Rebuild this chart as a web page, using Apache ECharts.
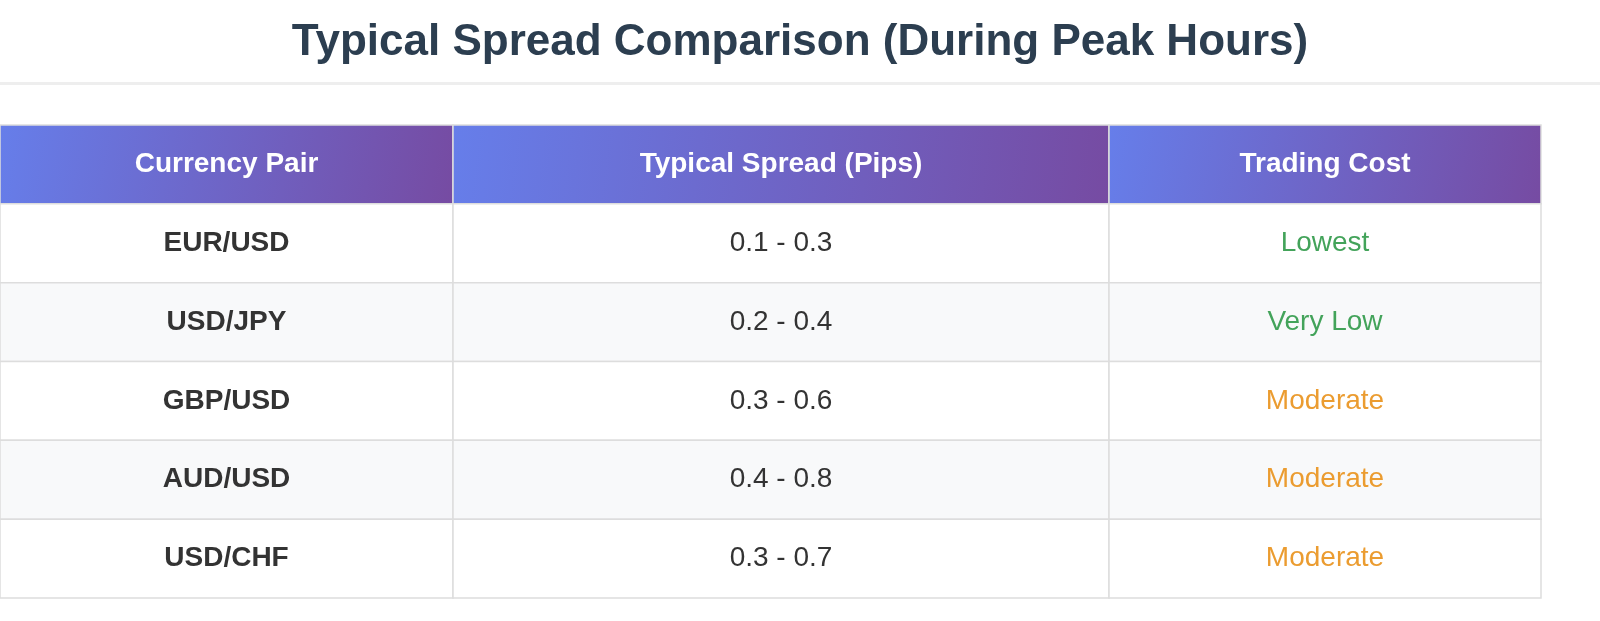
<!DOCTYPE html>
<html>
<head>
<meta charset="utf-8">
<script src="https://cdn.jsdelivr.net/npm/echarts@6/dist/echarts.min.js"></script>
<style>
  html, body { margin: 0; padding: 0; background: #fff; }
  #chart { width: 1600px; height: 621px; }
</style>
</head>
<body>
<div id="chart"></div>
<script>
// Table content
const headers = ['Currency Pair', 'Typical Spread (Pips)', 'Trading Cost'];
const pairs = ['EUR/USD', 'USD/JPY', 'GBP/USD', 'AUD/USD', 'USD/CHF'];
const spreads = ['0.1 - 0.3', '0.2 - 0.4', '0.3 - 0.6', '0.4 - 0.8', '0.3 - 0.7'];
const costs = ['Lowest', 'Very Low', 'Moderate', 'Moderate', 'Moderate'];

// Layout / style
const colWidths = [453, 656, 432];
const costColors = { 'Lowest': '#43a35a', 'Very Low': '#43a35a', 'Moderate': '#eb9c30' };
const FONT = '"Liberation Sans", Arial, sans-serif';

const colStarts = [];
let acc = 0;
colWidths.forEach(w => { colStarts.push(acc); acc += w; });
const totalWidth = acc;

const rowNames = ['header'].concat(pairs);
const cells = [];
headers.forEach((h, c) => cells.push([colStarts[c], colStarts[c] + colWidths[c], 0, h, c]));
pairs.forEach((p, i) => {
    const row = [p, spreads[i], costs[i]];
    row.forEach((t, c) => cells.push([colStarts[c], colStarts[c] + colWidths[c], i + 1, t, c]));
});

function renderCell(params, api) {
    const x0 = api.value(0), x1 = api.value(1), r = api.value(2);
    const text = cells[params.dataIndex][3];
    const c = cells[params.dataIndex][4];
    const p0 = api.coord([x0, r]);
    const p1 = api.coord([x1, r]);
    const h = api.size([0, 1])[1];
    const x = p0[0], y = p0[1] - h / 2, w = p1[0] - p0[0];
    let fill, font, color;
    if (r === 0) {
        fill = new echarts.graphic.LinearGradient(0, 0, 1, 1, [
            { offset: 0, color: '#667eea' }, { offset: 1, color: '#764ba2' }
        ]);
        font = 'bold 28px ' + FONT;
        color = '#ffffff';
    } else {
        fill = r % 2 === 0 ? '#f8f9fa' : '#ffffff';
        if (c === 0) { font = 'bold 28px ' + FONT; color = '#333333'; }
        else if (c === 1) { font = '28px ' + FONT; color = '#333333'; }
        else { font = '28px ' + FONT; color = costColors[text] || '#333'; }
    }
    return {
        type: 'group',
        children: [
            { type: 'rect', shape: { x: x, y: y, width: w, height: h },
              style: { fill: fill, stroke: '#dddddd', lineWidth: 1.5 } },
            { type: 'text', style: { x: x + w / 2, y: y + h / 2, text: text, font: font, fill: color,
              align: 'center', verticalAlign: 'middle' } }
        ]
    };
}

const chart = echarts.init(document.getElementById('chart'));
chart.setOption({
    animation: false,
    title: {
        text: 'Typical Spread Comparison (During Peak Hours)',
        left: 'center', top: 16,
        textStyle: { fontSize: 44, fontWeight: 'bold', color: '#2c3e50', fontFamily: FONT }
    },
    graphic: [{ type: 'rect', left: 0, top: 82, shape: { width: 1600, height: 3 }, style: { fill: '#eeeeee' } }],
    grid: { left: 0, right: 1600 - totalWidth, top: 125, bottom: 23 },
    xAxis: { type: 'value', min: 0, max: totalWidth, show: false },
    yAxis: { type: 'category', data: rowNames, inverse: true, show: false },
    series: [{ type: 'custom', renderItem: renderCell, data: cells.map(d => d.slice(0, 3)) }]
});
</script>
</body>
</html>
